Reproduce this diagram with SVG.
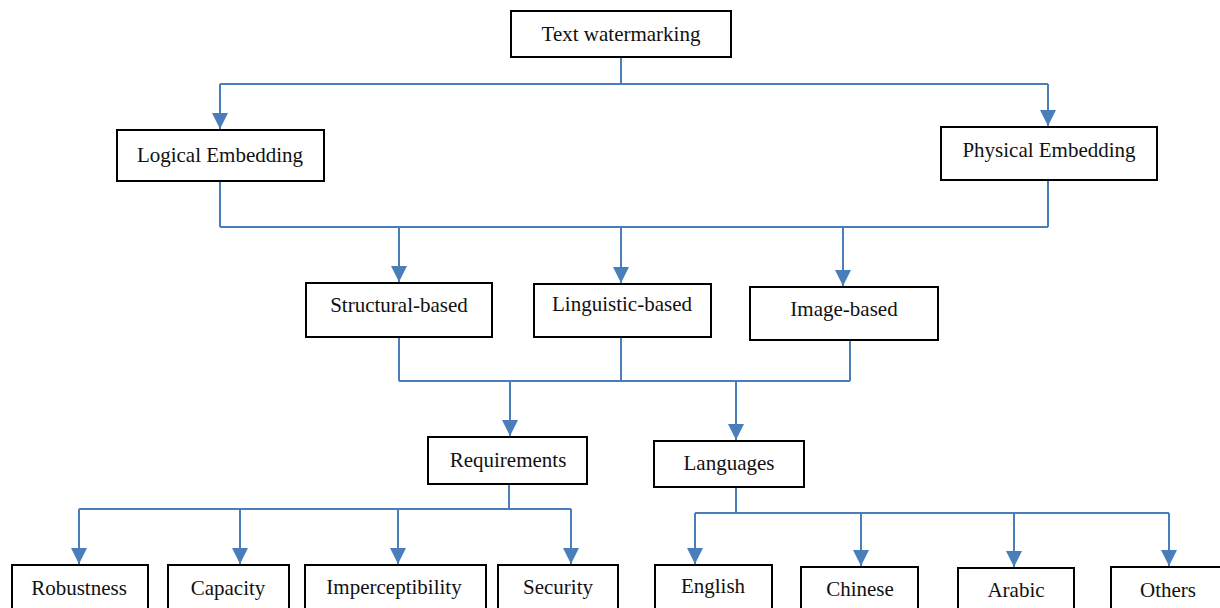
<svg xmlns="http://www.w3.org/2000/svg" width="1220" height="608" viewBox="0 0 1220 608">
<style>
.box{fill:#fff;stroke:#000;stroke-width:2}
.lbl{font-family:"Liberation Serif","Times New Roman",serif;font-size:21px;fill:#111;text-anchor:middle}
.c{fill:none;stroke:#4a7ebb;stroke-width:2}
.a{marker-end:url(#ah)}
</style>
<defs>
<marker id="ah" markerUnits="userSpaceOnUse" markerWidth="16" markerHeight="16" refX="16" refY="8" orient="auto">
<path d="M0,0 L16,8 L0,16 z" fill="#4a7ebb"/>
</marker>
</defs>
<rect width="1220" height="608" fill="#fff"/>
<g id="connectors">
<path class="c" d="M621,57 V84 M220,84 H1048"/>
<path class="c a" d="M220,84 V129"/>
<path class="c a" d="M1048,84 V126"/>
<path class="c" d="M220,181 V227 M1048,180 V227 M220,227 H1048"/>
<path class="c a" d="M399,227 V282"/>
<path class="c a" d="M621,227 V283"/>
<path class="c a" d="M843,227 V286"/>
<path class="c" d="M399,337 V381 M621,337 V381 M850,340 V381 M399,381 H850"/>
<path class="c a" d="M510,381 V436"/>
<path class="c a" d="M736,381 V440"/>
<path class="c" d="M509,484 V509 M79,509 H571"/>
<path class="c a" d="M79,509 V564"/>
<path class="c a" d="M240,509 V564"/>
<path class="c a" d="M398,509 V564"/>
<path class="c a" d="M571,509 V564"/>
<path class="c" d="M736,487 V513 M695,513 H1169"/>
<path class="c a" d="M695,513 V564"/>
<path class="c a" d="M861,513 V566"/>
<path class="c a" d="M1014,513 V567"/>
<path class="c a" d="M1169,513 V566"/>
</g>
<g id="n-text-watermarking"><rect class="box" x="511" y="11" width="220" height="46"/><text class="lbl" x="621" y="41">Text watermarking</text></g>
<g id="n-logical"><rect class="box" x="117" y="130" width="207" height="51"/><text class="lbl" x="220" y="162">Logical Embedding</text></g>
<g id="n-physical"><rect class="box" x="941" y="127" width="216" height="53"/><text class="lbl" x="1049" y="157">Physical Embedding</text></g>
<g id="n-structural"><rect class="box" x="306" y="283" width="186" height="54"/><text class="lbl" x="399" y="312">Structural-based</text></g>
<g id="n-linguistic"><rect class="box" x="534" y="284" width="177" height="53"/><text class="lbl" x="622" y="311">Linguistic-based</text></g>
<g id="n-image"><rect class="box" x="750" y="287" width="188" height="53"/><text class="lbl" x="844" y="316">Image-based</text></g>
<g id="n-requirements"><rect class="box" x="428" y="437" width="159" height="47"/><text class="lbl" x="508" y="467">Requirements</text></g>
<g id="n-languages"><rect class="box" x="654" y="441" width="150" height="46"/><text class="lbl" x="729" y="470">Languages</text></g>
<g id="n-robustness"><rect class="box" x="12" y="565" width="136" height="60"/><text class="lbl" x="79" y="595">Robustness</text></g>
<g id="n-capacity"><rect class="box" x="168" y="565" width="121" height="60"/><text class="lbl" x="228" y="595">Capacity</text></g>
<g id="n-imperceptibility"><rect class="box" x="305" y="565" width="181" height="60"/><text class="lbl" x="394" y="594">Imperceptibility</text></g>
<g id="n-security"><rect class="box" x="498" y="565" width="120" height="60"/><text class="lbl" x="558" y="594">Security</text></g>
<g id="n-english"><rect class="box" x="655" y="565" width="117" height="60"/><text class="lbl" x="713" y="593">English</text></g>
<g id="n-chinese"><rect class="box" x="801" y="567" width="117" height="60"/><text class="lbl" x="860" y="596">Chinese</text></g>
<g id="n-arabic"><rect class="box" x="958" y="568" width="116" height="60"/><text class="lbl" x="1016" y="597">Arabic</text></g>
<g id="n-others"><rect class="box" x="1111" y="567" width="120" height="60"/><text class="lbl" x="1168" y="597">Others</text></g>
</svg>
